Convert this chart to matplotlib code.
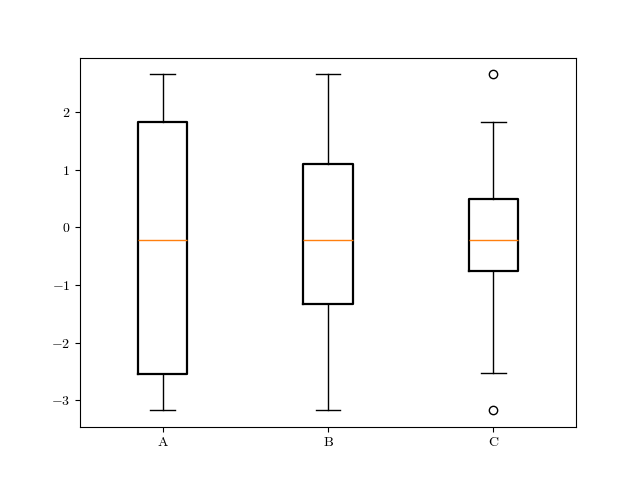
import matplotlib

matplotlib.use("Agg")
from matplotlib import pyplot as plt

plt.rcParams["font.family"] = "serif"
plt.rcParams["font.serif"] = ["cmr10"]
plt.rcParams["mathtext.fontset"] = "cm"
plt.rcParams["axes.formatter.use_mathtext"] = True

labels = ["A", "B", "C"]
whislo = [-3.17, -3.17, -2.53]
q1 = [-2.54, -1.33, -0.76]
med = [-0.22, -0.22, -0.22]
q3 = [1.84, 1.10, 0.49]
whishi = [2.67, 2.67, 1.84]
fliers = [[], [], [2.67, -3.17]]
yticks = [-3, -2, -1, 0, 1, 2]

stats = [
    {"label": lab, "whislo": lo, "q1": a, "med": m, "q3": b, "whishi": hi, "fliers": fl}
    for lab, lo, a, m, b, hi, fl in zip(labels, whislo, q1, med, q3, whishi, fliers)
]

fig, ax = plt.subplots(figsize=(6.4, 4.8), dpi=100)
ax.bxp(
    stats,
    widths=0.3,
    boxprops={"linewidth": 1.6},
    flierprops={"markersize": 6},
)
ax.set_xticks([1, 2, 3], labels)
ax.set_yticks(yticks, [f"${v}$" for v in yticks])
ax.set_ylim(-3.47, 2.95)
fig.savefig("out.png", dpi=100)
